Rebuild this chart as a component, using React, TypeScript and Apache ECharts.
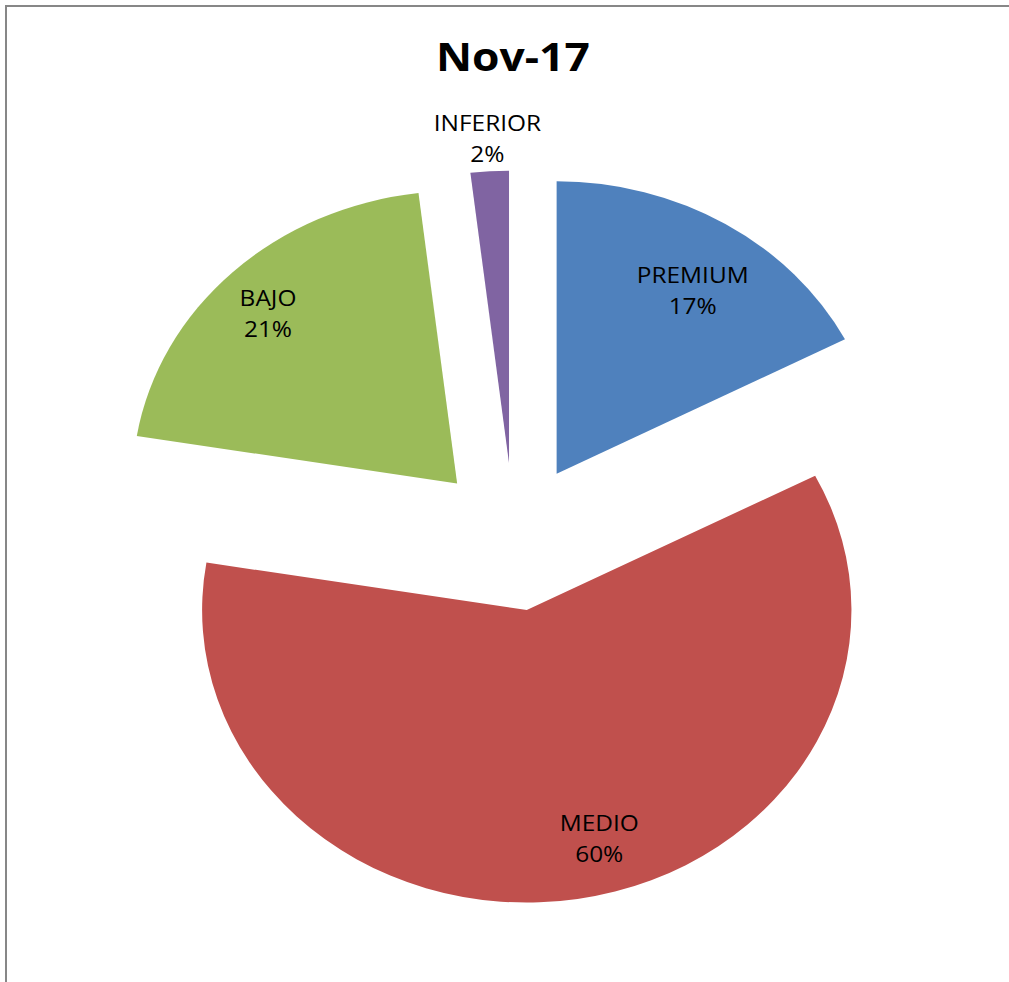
import React, { useEffect, useRef } from "react";
import * as echarts from "echarts";

const title = "Nov-17";
const categories = ["PREMIUM", "MEDIO", "BAJO", "INFERIOR"];
const shares = [17.4, 60.2, 20.5, 1.9];
const colors = ["#4F81BD", "#C0504D", "#9BBB59", "#8064A2"];
// which labels sit just inside their slice, which one sits outside
const insideLabel = [true, true, true, false];
// small best-fit nudges of the labels (unstretched px)
const labelNudgeX = [2, 29, -10, 0];
const labelNudgeY = [14, -1, -3, 0];

const STRETCH = 1.11;
const CHART_W = 909;
const CHART_H = 982;
const CENTER: [number, number] = [463, 537];
const RADIUS = 292.5;
const EXPLODE = 74;
const FONT = "'Open Sans', 'Noto Sans', sans-serif";

export default function App() {
  const ref = useRef<HTMLDivElement>(null);

  useEffect(() => {
    if (!ref.current) return;
    const chart = echarts.init(ref.current, null, { renderer: "svg" });

    const labelStyle = {
      position: "inside",
      formatter: "{b}\n{d}%",
      color: "#000",
      fontFamily: FONT,
      fontSize: 22,
      lineHeight: 31,
    };

    const mainData = categories.map((name, i) => ({
      name,
      value: shares[i],
      selected: true,
      itemStyle: { color: colors[i] },
    }));

    const overlayData = (showFn: (i: number) => boolean) =>
      categories.map((name, i) => ({
        name,
        value: shares[i],
        selected: true,
        itemStyle: { color: "rgba(0,0,0,0)", borderWidth: 0 },
        label: { show: showFn(i) },
      }));

    const common = {
      type: "pie",
      center: CENTER,
      startAngle: 90,
      clockwise: true,
      selectedMode: "multiple",
      selectedOffset: EXPLODE,
      percentPrecision: 0,
      labelLine: { show: false },
      emphasis: { disabled: true },
      silent: true,
    };

    chart.setOption({
      animation: false,
      backgroundColor: "transparent",
      title: {
        text: title,
        left: 457,
        top: 30,
        textAlign: "center",
        textStyle: {
          fontFamily: FONT,
          fontWeight: "bold",
          fontSize: 40,
          color: "#000",
        },
      },
      series: [
        {
          ...common,
          name: "main",
          radius: RADIUS,
          label: { show: false },
          itemStyle: { borderWidth: 0 },
          data: mainData,
        },
        {
          ...common,
          name: "labels-inside",
          radius: 458,
          label: labelStyle,
          labelLayout: (p: any) => ({
            dx: labelNudgeX[p.dataIndex],
            dy: labelNudgeY[p.dataIndex],
          }),
          data: overlayData((i) => insideLabel[i]),
        },
        {
          ...common,
          name: "labels-outside",
          radius: 646,
          label: labelStyle,
          data: overlayData((i) => !insideLabel[i]),
        },
      ],
    } as any);

    return () => chart.dispose();
  }, []);

  return (
    <div
      style={{
        position: "fixed",
        left: 0,
        top: 0,
        width: 1009,
        height: 982,
        overflow: "hidden",
        background: "#fff",
      }}
    >
      <div
        style={{
          position: "absolute",
          left: 5,
          top: 5,
          width: 1020,
          height: 1000,
          borderTop: "2px solid #878787",
          borderLeft: "2px solid #878787",
        }}
      />
      <div
        ref={ref}
        style={{
          position: "absolute",
          left: 0,
          top: 0,
          width: CHART_W,
          height: CHART_H,
          transform: `scaleX(${STRETCH})`,
          transformOrigin: "0 0",
        }}
      />
    </div>
  );
}
